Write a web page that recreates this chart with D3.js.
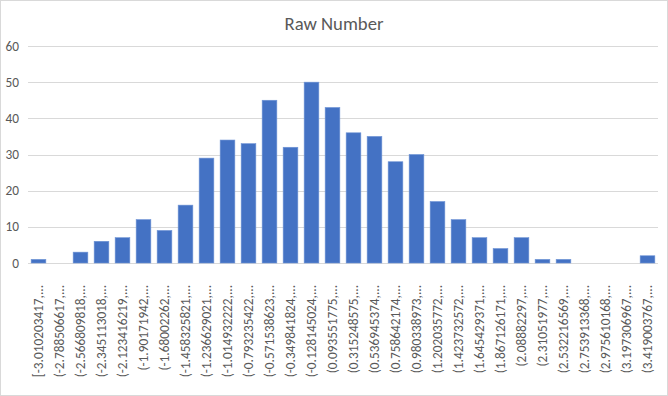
<!DOCTYPE html>
<html><head><meta charset="utf-8">
<script src="https://cdn.jsdelivr.net/npm/d3@7"></script>
<style>body{margin:0;background:#fff}svg{display:block}</style>
</head><body>
<svg id="c" width="668" height="396"></svg>
<script>
const categories = ["[-3.010203417,...","(-2.788506617,...","(-2.566809818,...","(-2.345113018,...","(-2.123416219,...","(-1.90171942,...","(-1.68002262,...","(-1.458325821,...","(-1.236629021,...","(-1.014932222,...","(-0.793235422,...","(-0.571538623,...","(-0.349841824,...","(-0.128145024,...","(0.093551775,...","(0.315248575,...","(0.536945374,...","(0.758642174,...","(0.980338973,...","(1.202035772,...","(1.423732572,...","(1.645429371,...","(1.867126171,...","(2.08882297,...","(2.31051977,...","(2.532216569,...","(2.753913368,...","(2.975610168,...","(3.197306967,...","(3.419003767,..."];
const values = [1,0,3,6,7,12,9,16,29,34,33,45,32,50,43,36,35,28,30,17,12,7,4,7,1,1,0,0,0,2];
const yTicks = [0,10,20,30,40,50,60];
const title = "Raw Number";

(function(){
const svg = d3.select("#c");
const font = "Calibri, Carlito, 'Liberation Sans', Arial, sans-serif";
svg.append("rect").attr("x",0.5).attr("y",0.5).attr("width",667).attr("height",395)
  .attr("fill","#fff").attr("stroke","#d9d9d9");

const pl=28,pr=658,pt=46,pb=263;
const x=d3.scaleBand().domain(categories).range([pl,pr]).paddingInner(0.3).paddingOuter(0.15);
const y=d3.scaleLinear().domain([0,60]).range([pb,pt]);

svg.append("text").attr("x",334).attr("y",30).attr("text-anchor","middle")
  .attr("font-family",font).attr("font-size",18.7).attr("fill","#595959").text(title);

const g=svg.append("g");
g.selectAll("line.grid").data(yTicks).join("line")
  .attr("x1",pl).attr("x2",pr).attr("y1",d=>Math.round(y(d))+0.5).attr("y2",d=>Math.round(y(d))+0.5)
  .attr("stroke","#d9d9d9").attr("stroke-width",1);

g.selectAll("text.yt").data(yTicks).join("text")
  .attr("x",19).attr("y",d=>y(d)).attr("dy","0.35em").attr("text-anchor","end")
  .attr("font-family",font).attr("font-size",13.3).attr("fill","#595959").text(d=>d);

g.selectAll("rect.bar").data(values).join("rect")
  .attr("x",(d,i)=>x(categories[i])).attr("width",x.bandwidth())
  .attr("y",d=>y(d)).attr("height",d=>y(0)-y(d))
  .attr("fill","#4472c4").attr("stroke","#6f94d6").attr("stroke-width",0.6);

g.selectAll("text.xl").data(categories).join("text")
  .attr("transform",d=>`translate(${x(d)+x.bandwidth()/2},285) rotate(-90)`)
  .attr("dy","0.35em").attr("text-anchor","end")
  .attr("font-family",font).attr("font-size",13.3).attr("fill","#595959").text(d=>d);
})();
</script>
</body></html>
